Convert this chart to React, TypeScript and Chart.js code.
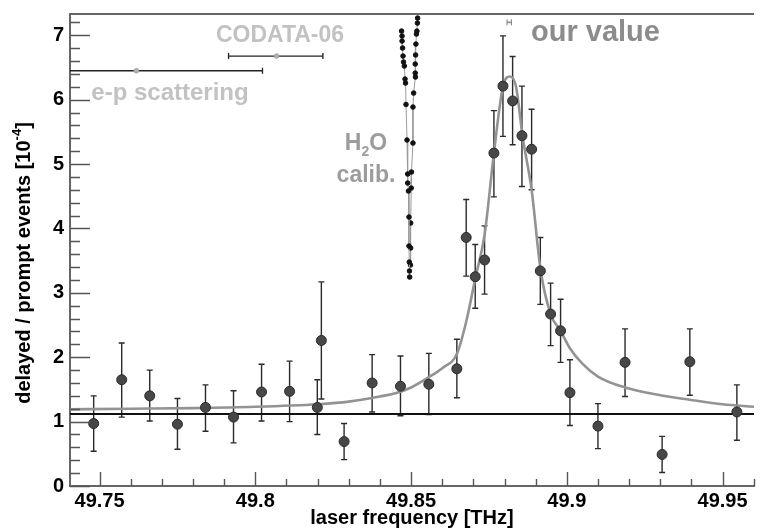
import React, { useEffect, useRef } from 'react';
import { Chart, registerables } from 'chart.js';
Chart.register(...registerables);

// ---- axes ----
const xMin = 49.7405;
const xMax = 49.9601;
const yMin = 0;
const yMax = 7.33;
const xTicks = [49.75, 49.8, 49.85, 49.9, 49.95];
const xTickLabels = ['49.75', '49.8', '49.85', '49.9', '49.95'];
const yTicks = [0, 1, 2, 3, 4, 5, 6, 7];
const yTickLabels = ['0', '1', '2', '3', '4', '5', '6', '7'];

// ---- measured resonance points ----
const freq = [49.7481, 49.7571, 49.7661, 49.775, 49.784, 49.793, 49.802, 49.811, 49.8199, 49.8212, 49.8285, 49.8375, 49.8466, 49.8557, 49.8647, 49.8677, 49.8706, 49.8736, 49.8766, 49.8795, 49.8826, 49.8856, 49.8887, 49.8915, 49.8948, 49.898, 49.901, 49.91, 49.9187, 49.9306, 49.9395, 49.9546];
const ratio = [0.97, 1.65, 1.4, 0.96, 1.22, 1.07, 1.46, 1.47, 1.22, 2.26, 0.69, 1.6, 1.55, 1.58, 1.82, 3.86, 3.25, 3.51, 5.17, 6.21, 5.98, 5.44, 5.23, 3.34, 2.67, 2.41, 1.45, 0.93, 1.92, 0.49, 1.93, 1.15];
const ratioLow = [0.54, 1.07, 1.01, 0.57, 0.85, 0.67, 1.01, 1.0, 0.8, 1.35, 0.41, 1.15, 1.09, 1.11, 1.37, 3.26, 2.76, 2.98, 4.49, 5.43, 5.3, 4.65, 4.6, 2.82, 2.18, 1.92, 0.94, 0.58, 1.39, 0.21, 1.41, 0.71];
const ratioHigh = [1.4, 2.22, 1.8, 1.36, 1.57, 1.48, 1.89, 1.94, 1.65, 3.17, 0.97, 2.04, 2.02, 2.06, 2.28, 4.45, 3.75, 4.04, 5.83, 6.99, 6.67, 6.21, 5.85, 3.86, 3.15, 2.9, 1.96, 1.28, 2.44, 0.77, 2.44, 1.57];

// ---- fitted line shape ----
const fitFreq = [49.7405, 49.76, 49.78, 49.8, 49.82, 49.83, 49.84, 49.845, 49.85, 49.8557, 49.86, 49.8647, 49.8677, 49.8706, 49.8736, 49.8766, 49.8795, 49.8818, 49.8837, 49.8858, 49.8887, 49.8916, 49.8948, 49.898, 49.901, 49.905, 49.91, 49.9187, 49.93, 49.9395, 49.95, 49.9601];
const fitValue = [1.19, 1.2, 1.21, 1.23, 1.27, 1.31, 1.39, 1.44, 1.53, 1.69, 1.83, 2.05, 2.55, 3.22, 3.9, 5.17, 6.2, 6.36, 6.2, 5.43, 4.6, 3.35, 2.67, 2.41, 2.14, 1.9, 1.7, 1.53, 1.41, 1.34, 1.27, 1.23];
const backgroundLevel = 1.12;

// ---- H2O calibration traces ----
const h2oLeftFreq = [49.84695, 49.84711, 49.84711, 49.84727, 49.84742, 49.84758, 49.84784, 49.84806, 49.84822, 49.84838, 49.8487, 49.84892, 49.84892, 49.84917, 49.84933, 49.84933, 49.84943, 49.84949, 49.84955];
const h2oLeftVal = [7.065, 6.988, 6.91, 6.801, 6.677, 6.584, 6.522, 6.32, 6.258, 5.925, 5.373, 4.845, 4.705, 4.581, 4.177, 3.727, 3.478, 3.339, 3.245];
const h2oRightFreq = [49.8521, 49.85204, 49.85188, 49.85172, 49.85156, 49.85146, 49.85134, 49.85134, 49.8514, 49.85083, 49.85061, 49.85061, 49.85013, 49.85006, 49.84987, 49.84987, 49.84981];
const h2oRightVal = [7.267, 7.189, 7.065, 7.019, 6.863, 6.693, 6.553, 6.413, 6.351, 6.102, 5.885, 5.326, 4.876, 4.627, 4.084, 3.696, 3.432];

// ---- reference values (CODATA-06, e-p scattering, our value) ----
const refNames = ['CODATA-06', 'e-p scattering', 'our value'];
const refFreq = [49.8068, 49.7618, 49.8815];
const refLow = [49.7914, 49.7213, 49.8808];
const refHigh = [49.8217, 49.8023, 49.8822];
const refLevel = [6.677, 6.449, 7.2];

const FONT = '"Liberation Sans", Arial, Helvetica, sans-serif';

const decorPlugin = {
  id: 'decor',
  beforeDatasetsDraw(chart: any) {
    const { ctx, chartArea: a, scales } = chart;
    const x = scales.x, y = scales.y;
    ctx.save();
    ctx.beginPath();
    ctx.rect(a.left, a.top, a.right - a.left, a.bottom - a.top);
    ctx.clip();
    ctx.strokeStyle = '#2a2a2a';
    ctx.lineWidth = 1.4;
    for (let i = 0; i < freq.length; i++) {
      const px = x.getPixelForValue(freq[i]);
      const yl = y.getPixelForValue(ratioLow[i]);
      const yh = y.getPixelForValue(ratioHigh[i]);
      ctx.beginPath();
      ctx.moveTo(px, yl); ctx.lineTo(px, yh);
      ctx.moveTo(px - 3, yl); ctx.lineTo(px + 3, yl);
      ctx.moveTo(px - 3, yh); ctx.lineTo(px + 3, yh);
      ctx.stroke();
    }
    for (let i = 0; i < refFreq.length; i++) {
      const xl = x.getPixelForValue(refLow[i]);
      const xh = x.getPixelForValue(refHigh[i]);
      const py = y.getPixelForValue(refLevel[i]);
      ctx.strokeStyle = i === 2 ? '#777' : '#222';
      ctx.lineWidth = i === 2 ? 1 : 1.3;
      ctx.beginPath();
      ctx.moveTo(xl, py); ctx.lineTo(xh, py);
      ctx.moveTo(xl, py - 3); ctx.lineTo(xl, py + 3);
      ctx.moveTo(xh, py - 3); ctx.lineTo(xh, py + 3);
      ctx.stroke();
    }
    ctx.restore();
  },
  afterDraw(chart: any) {
    const { ctx, chartArea: a, scales } = chart;
    const x = scales.x, y = scales.y;
    ctx.save();
    ctx.strokeStyle = '#666';
    ctx.lineWidth = 2;
    ctx.beginPath();
    ctx.moveTo(a.left - 1, a.top); ctx.lineTo(a.right, a.top);
    ctx.stroke();
    ctx.strokeStyle = '#555';
    ctx.lineWidth = 1.4;
    ctx.beginPath();
    for (let k = 0; k <= 21; k++) {
      const v = 49.75 + k * 0.01;
      if (v > xMax) break;
      const px = Math.round(x.getPixelForValue(v)) + 0.5;
      const major = k % 5 === 0;
      ctx.moveTo(px, a.bottom); ctx.lineTo(px, a.bottom - (major ? 14 : 7));
    }
    for (let k = 0; k <= 36; k++) {
      const v = k * 0.2;
      if (v > yMax) break;
      const py = Math.round(y.getPixelForValue(v)) + 0.5;
      const major = k % 5 === 0;
      ctx.moveTo(a.left, py); ctx.lineTo(a.left + (major ? 20 : 10), py);
    }
    ctx.stroke();

    // y axis title with superscript
    ctx.save();
    ctx.translate(30, 263);
    ctx.rotate(-Math.PI / 2);
    ctx.fillStyle = '#000';
    ctx.textBaseline = 'alphabetic';
    ctx.textAlign = 'left';
    const mainT = 'delayed / prompt events [10';
    const supT = '-4';
    const endT = ']';
    ctx.font = `bold 20px ${FONT}`;
    const w1 = ctx.measureText(mainT).width;
    const w3 = ctx.measureText(endT).width;
    ctx.font = `bold 13px ${FONT}`;
    const w2 = ctx.measureText(supT).width;
    const W = w1 + w2 + w3;
    let cx = -W / 2;
    ctx.font = `bold 20px ${FONT}`;
    ctx.fillText(mainT, cx, 0);
    cx += w1;
    ctx.font = `bold 13px ${FONT}`;
    ctx.fillText(supT, cx, -9);
    cx += w2;
    ctx.font = `bold 20px ${FONT}`;
    ctx.fillText(endT, cx, 0);
    ctx.restore();

    // annotations
    ctx.textBaseline = 'alphabetic';
    ctx.textAlign = 'center';
    ctx.fillStyle = '#c2c2c2';
    ctx.font = `bold 23px ${FONT}`;
    ctx.fillText(refNames[0], 280, 42);
    ctx.font = `bold 24px ${FONT}`;
    ctx.fillText(refNames[1], 170, 100);
    ctx.fillStyle = '#8c8c8c';
    ctx.font = `bold 29px ${FONT}`;
    ctx.textAlign = 'left';
    ctx.fillText(refNames[2], 531, 41);

    // H2O calib.
    ctx.fillStyle = '#9c9c9c';
    ctx.font = `bold 23px ${FONT}`;
    const hW = ctx.measureText('H').width;
    const oW = ctx.measureText('O').width;
    ctx.font = `bold 14px ${FONT}`;
    const twoW = ctx.measureText('2').width;
    const tot = hW + twoW + oW;
    let hx = 366 - tot / 2;
    ctx.font = `bold 23px ${FONT}`;
    ctx.fillText('H', hx, 150);
    hx += hW;
    ctx.font = `bold 14px ${FONT}`;
    ctx.fillText('2', hx, 156);
    hx += twoW;
    ctx.font = `bold 23px ${FONT}`;
    ctx.fillText('O', hx, 150);
    ctx.textAlign = 'center';
    ctx.fillText('calib.', 366, 182);
    ctx.restore();
  },
};

export default function App() {
  const ref = useRef<HTMLCanvasElement | null>(null);
  useEffect(() => {
    document.body.style.margin = '0';
    const canvas = ref.current;
    if (!canvas) return;
    const chart = new Chart(canvas, {
      type: 'scatter',
      data: {
        datasets: [
          {
            label: 'data',
            data: freq.map((f, i) => ({ x: f, y: ratio[i] })),
            pointRadius: 5,
            pointBackgroundColor: '#474747',
            pointBorderColor: '#2a2a2a',
            pointBorderWidth: 1,
            showLine: false,
            order: 0,
          },
          {
            label: 'fit',
            data: fitFreq.map((f, i) => ({ x: f, y: fitValue[i] })),
            showLine: true,
            pointRadius: 0,
            borderColor: '#939393',
            borderWidth: 2.6,
            cubicInterpolationMode: 'monotone',
            order: 3,
          },
          {
            label: 'background',
            data: [{ x: xMin, y: backgroundLevel }, { x: xMax, y: backgroundLevel }],
            showLine: true,
            pointRadius: 0,
            borderColor: '#111',
            borderWidth: 2,
            order: 4,
          },
          {
            label: 'H2O left',
            data: h2oLeftFreq.map((f, i) => ({ x: f, y: h2oLeftVal[i] })),
            showLine: true,
            pointRadius: 2.3,
            pointBackgroundColor: '#111',
            pointBorderColor: '#111',
            borderColor: '#9a9a9a',
            borderWidth: 1,
            order: 1,
          },
          {
            label: 'H2O right',
            data: h2oRightFreq.map((f, i) => ({ x: f, y: h2oRightVal[i] })),
            showLine: true,
            pointRadius: 2.3,
            pointBackgroundColor: '#111',
            pointBorderColor: '#111',
            borderColor: '#9a9a9a',
            borderWidth: 1,
            order: 1,
          },
          {
            label: 'references',
            data: refFreq.map((f, i) => ({ x: f, y: refLevel[i] })),
            pointRadius: [2.5, 2.5, 1],
            pointBackgroundColor: '#b0b0b0',
            pointBorderColor: '#999',
            pointBorderWidth: 0.5,
            showLine: false,
            order: 2,
          },
        ],
      },
      options: {
        animation: false,
        responsive: false,
        layout: { padding: { top: 14, left: 0, right: 0, bottom: 0 } },
        plugins: { legend: { display: false }, tooltip: { enabled: false }, title: { display: false } },
        scales: {
          x: {
            type: 'linear',
            min: xMin,
            max: xMax,
            afterBuildTicks: (s: any) => { s.ticks = xTicks.map((v) => ({ value: v })); },
            afterFit: (s: any) => { s.height = 44; s.paddingLeft = 0; s.paddingRight = 0; },
            grid: { display: false, drawTicks: false },
            border: { display: true, color: '#666', width: 2 },
            ticks: {
              padding: 3,
              color: '#000',
              maxRotation: 0,
              autoSkip: false,
              font: { family: FONT, size: 20, weight: 'bold' },
              callback: (v: any) => xTickLabels[xTicks.indexOf(Number(v))] ?? '',
            },
            title: {
              display: true,
              text: 'laser frequency [THz]',
              color: '#000',
              font: { family: FONT, size: 20, weight: 'bold' },
              padding: { top: 0, bottom: 0 },
            },
          },
          y: {
            type: 'linear',
            min: yMin,
            max: yMax,
            afterBuildTicks: (s: any) => { s.ticks = yTicks.map((v) => ({ value: v })); },
            afterFit: (s: any) => { s.width = 70; s.paddingTop = 0; s.paddingBottom = 0; },
            grid: { display: false, drawTicks: false },
            border: { display: true, color: '#666', width: 2 },
            ticks: {
              padding: 6,
              color: '#000',
              autoSkip: false,
              font: { family: FONT, size: 20, weight: 'bold' },
              callback: (v: any) => yTickLabels[yTicks.indexOf(Number(v))] ?? '',
            },
          },
        },
      },
      plugins: [decorPlugin],
    } as any);
    return () => chart.destroy();
  }, []);
  return (
    <div style={{ width: 760, height: 530, background: '#fff' }}>
      <canvas ref={ref} width={760} height={530} style={{ display: 'block', width: 760, height: 530 }} />
    </div>
  );
}
